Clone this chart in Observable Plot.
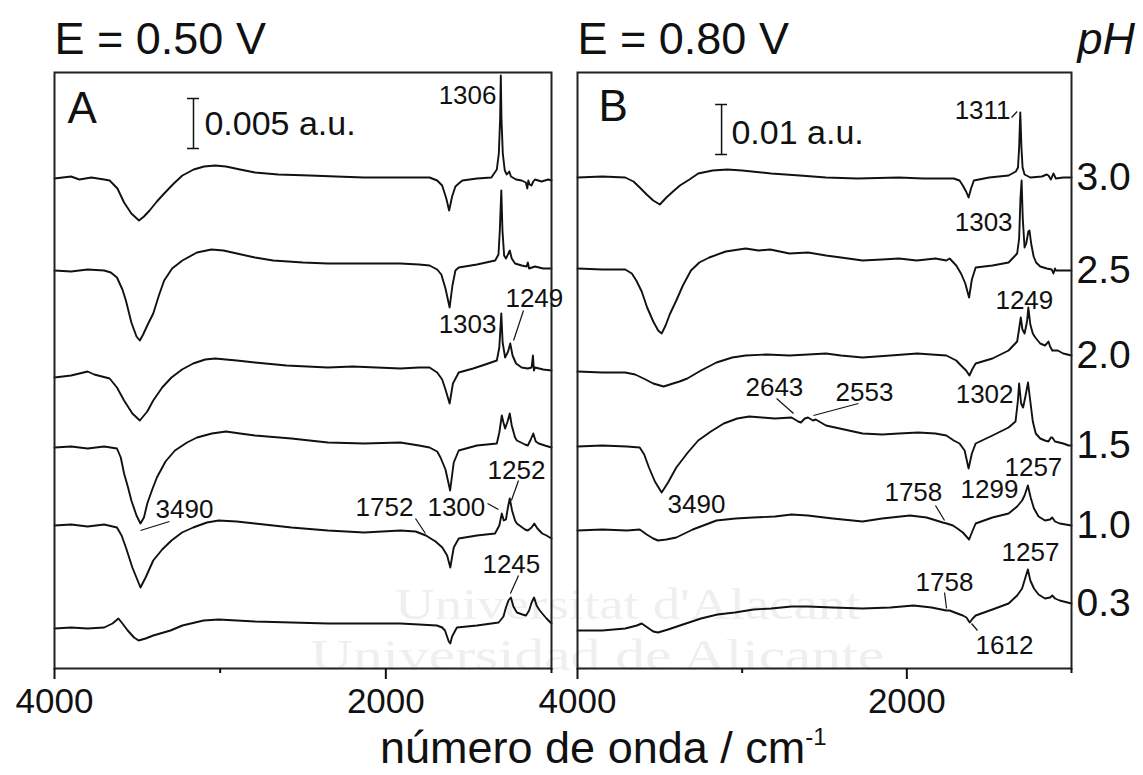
<!DOCTYPE html>
<html>
<head>
<meta charset="utf-8">
<script src="https://cdn.jsdelivr.net/npm/d3@7"></script>
<script src="https://cdn.jsdelivr.net/npm/@observablehq/plot@0.6"></script>
<style>
html, body { margin: 0; padding: 0; background: #fff; }
#wrap { position: relative; width: 1143px; height: 775px; overflow: hidden; font-family: "Liberation Sans", Arial, sans-serif; color: #111; }
#wrap svg { position: absolute; top: 0; overflow: visible; background: transparent; }
.wm { position: absolute; font-family: "Liberation Serif", "DejaVu Serif", serif; color: #efefef; white-space: nowrap; font-size: 45px; line-height: 50px; height: 50px; transform-origin: 0 50%; }
#xlabel { position: absolute; left: 380px; top: 725px; font-size: 45px; line-height: 45px; white-space: nowrap; color: #111; }
#xlabel span { font-size: 24px; position: relative; top: -18px; }
</style>
</head>
<body>
<div id="wrap">
  <div class="wm" style="left:395px; top:579px; transform: scaleX(1.22);">Universitat d'Alacant</div>
  <div class="wm" style="left:310px; top:630px; transform: scaleX(1.32);">Universidad de Alicante</div>
  <div id="xlabel">número de onda / cm<span>-1</span></div>
</div>
<script>
// ---------------- data ----------------
const wavenumberDomain = [4000, 1000];
const majorTicks = [4000, 2000];
const minorTicks = [3000, 1000];
const pHLabels = ["3.0", "2.5", "2.0", "1.5", "1.0", "0.3"];

// Panel A (E = 0.50 V): [wavenumber, ΔA in 10^-3 a.u. relative to the trace's baseline]
const A_pH30 = [[4000,0],[3900,0.2],[3850,-0.1],[3777,0.1],[3700,-0.1],[3667,-0.2],[3620,-1.0],[3580,-2.4],[3536,-3.5],[3490,-4.2],[3460,-3.8],[3426,-3.2],[3382,-2.3],[3338,-1.5],[3280,-0.5],[3228,0.3],[3160,0.9],[3097,1.2],[3030,1.3],[2965,1.2],[2880,0.9],[2790,0.6],[2650,0.4],[2460,0.3],[2300,0.2],[2131,0.1],[1950,0.1],[1800,0.1],[1736,0.1],[1690,-0.2],[1660,-0.7],[1635,-2.0],[1618,-3.2],[1600,-1.8],[1580,-0.8],[1560,-0.5],[1538,-0.2],[1450,0.0],[1363,0.1],[1330,0.9],[1318,2.5],[1310,6.0],[1306,10.3],[1302,6.0],[1294,2.5],[1282,0.8],[1270,0.4],[1255,0.7],[1245,0.2],[1214,-0.1],[1180,-0.2],[1155,-0.4],[1146,-1.0],[1140,-0.2],[1132,-0.6],[1121,-0.7],[1110,-0.3],[1100,-0.1],[1060,-0.3],[1020,-0.1],[1000,-0.2]];
const A_pH25 = [[4000,0],[3900,-0.1],[3800,0.1],[3700,0],[3660,-0.2],[3623,-0.7],[3590,-1.9],[3569,-3.0],[3536,-5.2],[3505,-6.6],[3485,-7.0],[3465,-6.4],[3440,-5.5],[3404,-4.3],[3370,-2.5],[3338,-1.0],[3290,0.2],[3228,1.0],[3140,1.8],[3053,2.1],[2980,2.0],[2899,1.7],[2790,1.3],[2680,1.0],[2500,0.8],[2350,0.7],[2100,0.7],[1912,0.7],[1800,0.6],[1736,0.5],[1690,0.1],[1665,-0.4],[1640,-1.8],[1615,-3.7],[1598,-1.5],[1580,0.0],[1560,0.3],[1450,0.6],[1340,1.0],[1320,1.6],[1312,4.0],[1303,8.0],[1296,4.0],[1286,1.5],[1275,1.2],[1260,1.7],[1252,2.0],[1240,1.2],[1220,0.7],[1180,0.5],[1150,0.4],[1143,0.8],[1135,0.2],[1100,0.4],[1050,0.2],[1000,0.2]];
const A_pH20 = [[4000,0],[3900,0.2],[3800,0.6],[3760,0.3],[3667,-0.1],[3623,-1.0],[3580,-2.3],[3530,-3.6],[3485,-4.3],[3440,-3.4],[3404,-2.3],[3350,-1.0],[3294,0.0],[3230,0.8],[3163,1.4],[3090,1.8],[3031,1.9],[2900,1.7],[2790,1.5],[2600,1.2],[2350,1.0],[2200,1.1],[1912,0.9],[1800,1.0],[1736,1.0],[1690,0.5],[1660,-0.2],[1640,-1.2],[1615,-2.6],[1595,-0.6],[1560,0.5],[1473,0.9],[1400,1.3],[1330,1.7],[1315,3.0],[1303,6.4],[1295,3.5],[1280,2.0],[1262,2.6],[1249,3.4],[1235,2.2],[1214,1.4],[1180,1.0],[1143,0.9],[1120,1.0],[1112,2.2],[1106,0.7],[1099,1.0],[1050,0.8],[1000,0.7]];
const A_pH15 = [[4000,0],[3900,0.1],[3800,-0.1],[3700,0.1],[3623,-0.1],[3600,-1.0],[3580,-2.6],[3556,-4.0],[3536,-5.3],[3505,-6.8],[3481,-7.6],[3460,-7.0],[3440,-5.6],[3410,-4.2],[3382,-3.0],[3330,-1.4],[3273,-0.3],[3200,0.5],[3140,1.0],[3050,1.4],[2965,1.6],[2880,1.4],[2790,1.2],[2570,0.9],[2350,0.5],[2131,0.4],[1912,0.5],[1800,0.2],[1736,0.0],[1690,-0.4],[1670,-1.0],[1640,-2.2],[1612,-4.3],[1590,-1.5],[1560,-0.3],[1450,0.2],[1330,0.4],[1315,1.5],[1300,3.2],[1290,2.5],[1280,1.9],[1265,2.6],[1252,3.4],[1240,2.2],[1220,1.0],[1209,0.7],[1160,0.3],[1143,0.2],[1125,0.8],[1110,1.4],[1095,0.6],[1077,0.4],[1040,0.2],[1000,0]];
const A_pH10 = [[4000,0],[3900,0.1],[3800,-0.1],[3700,0.1],[3623,-0.2],[3595,-1.0],[3569,-2.2],[3530,-4.2],[3481,-6.2],[3450,-5.2],[3404,-3.5],[3350,-2.4],[3294,-1.5],[3230,-0.7],[3163,-0.2],[3080,0.3],[3009,0.5],[2900,0.4],[2790,0.2],[2570,-0.2],[2350,-0.5],[2131,-0.7],[1912,-0.5],[1820,-0.6],[1758,-1.0],[1700,-1.6],[1659,-2.2],[1630,-3.0],[1611,-4.2],[1590,-2.2],[1560,-1.3],[1450,-1.0],[1341,-0.8],[1315,0.0],[1300,1.2],[1288,0.5],[1275,0.6],[1263,1.8],[1252,2.7],[1238,1.5],[1220,0.5],[1209,0.2],[1160,-0.4],[1143,-0.5],[1120,-0.2],[1104,0.2],[1085,-0.3],[1056,-0.8],[1030,-1.0],[1000,-1.3]];
const A_pH03 = [[4000,0],[3900,0.1],[3800,0.0],[3700,0.1],[3650,0.5],[3614,1.0],[3590,0.5],[3558,-0.2],[3520,-0.9],[3492,-1.2],[3450,-1.0],[3404,-0.7],[3300,-0.2],[3228,0.3],[3100,0.8],[3009,0.9],[2900,0.8],[2790,0.7],[2570,0.6],[2350,0.5],[2131,0.5],[1912,0.5],[1800,0.4],[1692,0.3],[1660,0.1],[1643,-0.2],[1620,-1.3],[1611,-1.5],[1600,-0.8],[1571,0.1],[1450,0.3],[1319,0.6],[1290,1.2],[1275,2.1],[1260,2.8],[1245,3.1],[1230,2.2],[1209,1.6],[1175,1.4],[1154,1.3],[1135,1.8],[1120,2.6],[1105,3.1],[1090,2.3],[1075,1.9],[1056,1.5],[1030,1.0],[1000,0.5]];
const tracesA = [A_pH30, A_pH25, A_pH20, A_pH15, A_pH10, A_pH03];
const offsetsA = [49.0, 39.8, 29.1, 22.1, 14.3, 4.0];          // stacking offsets, 10^-3 a.u.
const yDomainA = [0, 59.6];

// Panel B (E = 0.80 V)
const B_pH30 = [[4000,0],[3850,0.2],[3710,0],[3660,-0.8],[3622,-2.0],[3580,-3.4],[3540,-4.6],[3500,-5.4],[3460,-4.0],[3420,-2.8],[3378,-1.6],[3320,-0.4],[3267,0.8],[3180,1.4],[3090,1.6],[3000,1.4],[2824,0.8],[2650,0.4],[2491,0],[2300,-0.2],[2048,0],[1900,-0.2],[1715,-0.2],[1680,-0.6],[1660,-1.6],[1640,-2.8],[1625,-4.0],[1610,-2.2],[1593,-0.6],[1500,0.0],[1382,0.4],[1338,1.2],[1325,2.0],[1318,6.0],[1311,13.0],[1304,6.0],[1297,2.0],[1285,0.6],[1250,0],[1180,0.2],[1150,0.6],[1140,0.4],[1125,-0.4],[1110,0.8],[1095,-0.2],[1050,0],[1000,0]];
const B_pH25 = [[4000,0],[3850,-0.2],[3710,-0.2],[3670,-1.0],[3643,-2.4],[3610,-4.6],[3577,-7.8],[3540,-10.6],[3510,-12.4],[3489,-13.0],[3465,-11.4],[3440,-9.2],[3400,-6.4],[3360,-3.4],[3311,-0.4],[3260,1.2],[3200,2.2],[3100,3.4],[2979,4.0],[2900,3.6],[2830,3.8],[2713,3.0],[2600,3.2],[2491,2.6],[2400,2.2],[2269,1.6],[2150,1.8],[2048,2.0],[1940,1.6],[1826,2.0],[1760,1.6],[1740,2.0],[1700,0.6],[1671,-1.0],[1645,-3.0],[1622,-5.8],[1605,-2.2],[1582,0.2],[1480,0.6],[1382,1.2],[1330,3.0],[1318,6.0],[1310,14.0],[1303,17.6],[1296,10.0],[1285,4.2],[1275,5.0],[1262,7.4],[1255,7.6],[1245,5.0],[1230,2.4],[1215,1.2],[1190,0.4],[1150,0],[1120,-0.2],[1110,-1.0],[1100,0.0],[1095,-0.4],[1050,-0.4],[1000,-0.4]];
const B_pH20 = [[4000,0],[3850,-0.2],[3710,-0.2],[3650,-0.6],[3599,-1.4],[3540,-2.4],[3477,-3.0],[3420,-2.4],[3380,-2.0],[3333,-1.4],[3250,0.2],[3156,1.8],[3060,2.8],[2979,3.2],[2850,3.4],[2713,3.2],[2600,3.4],[2491,3.6],[2400,3.2],[2269,2.8],[2100,3.2],[1937,3.6],[1850,3.4],[1760,3.2],[1700,2.2],[1671,1.2],[1640,0.2],[1620,-0.8],[1600,0.6],[1582,1.6],[1480,2.6],[1382,4.2],[1330,6.0],[1316,9.0],[1308,10.8],[1298,8.4],[1285,7.6],[1270,10.0],[1262,12.8],[1250,9.4],[1235,7.6],[1220,6.8],[1190,5.6],[1161,5.2],[1150,5.6],[1140,6.0],[1130,5.0],[1117,4.2],[1084,4.2],[1050,3.6],[1000,3.2]];
const B_pH15 = [[4000,0],[3850,0.2],[3700,0],[3622,-0.2],[3595,-1.6],[3566,-4.2],[3530,-7.0],[3489,-9.2],[3450,-7.2],[3400,-4.2],[3330,-1.2],[3267,1.2],[3190,3.0],[3112,4.6],[3030,5.6],[2957,6.0],[2880,5.8],[2801,5.6],[2700,5.8],[2660,5.0],[2643,4.8],[2620,5.6],[2600,5.8],[2570,5.2],[2553,5.4],[2491,4.2],[2380,3.4],[2269,2.6],[2150,2.4],[2048,2.6],[1930,2.8],[1826,2.6],[1760,2.2],[1715,1.2],[1680,0.6],[1649,-0.8],[1625,-4.4],[1605,-1.4],[1582,0.6],[1480,2.2],[1382,3.8],[1340,5.0],[1326,9.0],[1318,12.6],[1306,8.6],[1294,7.8],[1280,10.0],[1264,12.8],[1250,9.0],[1235,5.0],[1217,2.6],[1190,1.6],[1161,1.2],[1140,1.0],[1125,1.8],[1117,1.8],[1100,1.0],[1050,0.6],[1017,0.2],[1000,0.2]];
const B_pH10 = [[4000,0],[3850,0.2],[3700,0],[3622,0.2],[3580,-0.8],[3540,-1.6],[3511,-2.0],[3460,-1.8],[3400,-1.4],[3300,0.2],[3156,2.0],[3040,2.4],[2934,2.6],[2800,2.8],[2700,3.2],[2602,3.0],[2450,2.4],[2269,1.8],[2150,2.4],[1981,3.0],[1880,2.6],[1782,1.6],[1758,1.4],[1720,1.0],[1693,0.4],[1660,-0.4],[1622,-1.8],[1600,0.0],[1582,1.4],[1480,2.6],[1382,3.4],[1330,4.8],[1300,6.0],[1285,7.0],[1265,9.0],[1248,6.6],[1228,4.4],[1200,2.8],[1161,2.0],[1130,2.2],[1117,2.6],[1100,1.8],[1072,1.4],[1000,1.0]];
const B_pH03 = [[4000,0],[3850,0],[3710,0.4],[3640,1.0],[3610,1.4],[3575,0.6],[3540,-0.2],[3511,-0.4],[3450,0.2],[3378,1.0],[3250,2.4],[3150,3.2],[3045,3.6],[2930,4.2],[2824,4.4],[2700,4.8],[2602,4.8],[2450,4.6],[2269,4.4],[2100,4.6],[1959,5.0],[1850,4.6],[1760,4.0],[1740,4.0],[1693,3.4],[1660,3.0],[1638,2.6],[1618,1.6],[1600,2.4],[1582,3.0],[1480,4.2],[1382,5.4],[1330,7.0],[1300,8.4],[1280,10.6],[1265,12.2],[1250,10.0],[1228,8.4],[1200,7.2],[1161,6.4],[1130,6.6],[1117,7.0],[1100,6.4],[1072,6.0],[1000,5.4]];
const tracesB = [B_pH30, B_pH25, B_pH20, B_pH15, B_pH10, B_pH03];
const offsetsB = [98.2, 80.0, 59.4, 44.4, 27.6, 7.6];
const yDomainB = [0, 119.2];

// Scale bars (10^-3 a.u.)
const scaleBarA = {wn: 3161, from: 52.0, length: 5, label: "0.005 a.u.", labelWn: 3095, labelY: 53.4, cap: 36};
const scaleBarB = {wn: 3125, from: 102.8, length: 10, label: "0.01 a.u.", labelWn: 3065, labelY: 105.0, cap: 36};

// Peak annotations
const peakLabelsA = [
  {text: "1306", wn: 1332, y: 56.5, anchor: "end"},
  {text: "1303", wn: 1332, y: 33.6, anchor: "end"},
  {text: "1249", wn: 1278, y: 36.2, anchor: "start"},
  {text: "3490", wn: 3390, y: 15.1, anchor: "start"},
  {text: "1752", wn: 2183, y: 15.3, anchor: "start"},
  {text: "1300", wn: 1749, y: 15.3, anchor: "start"},
  {text: "1252", wn: 1386, y: 19.0, anchor: "start"},
  {text: "1245", wn: 1417, y: 9.6, anchor: "start"}
];
const leadersA = [
  {x1: 1169, y1: 35.8, x2: 1229, y2: 32.8},
  {x1: 3481, y1: 13.8, x2: 3306, y2: 14.7},
  {x1: 1821, y1: 15.0, x2: 1761, y2: 13.5},
  {x1: 1386, y1: 16.5, x2: 1320, y2: 15.9},
  {x1: 1199, y1: 18.8, x2: 1242, y2: 16.8},
  {x1: 1199, y1: 9.3, x2: 1248, y2: 7.5}
];
const peakLabelsB = [
  {text: "1311", wn: 1370, y: 110.0, anchor: "end"},
  {text: "1303", wn: 1358, y: 87.6, anchor: "end"},
  {text: "1249", wn: 1462, y: 72.0, anchor: "start"},
  {text: "2643", wn: 2980, y: 54.6, anchor: "start"},
  {text: "2553", wn: 2433, y: 53.6, anchor: "start"},
  {text: "1302", wn: 1352, y: 53.2, anchor: "end"},
  {text: "3490", wn: 3453, y: 31.2, anchor: "start"},
  {text: "1758", wn: 2136, y: 33.6, anchor: "start"},
  {text: "1299", wn: 1674, y: 34.2, anchor: "start"},
  {text: "1257", wn: 1407, y: 38.6, anchor: "start"},
  {text: "1257", wn: 1425, y: 21.6, anchor: "start"},
  {text: "1758", wn: 1947, y: 15.6, anchor: "start"},
  {text: "1612", wn: 1583, y: 3.0, anchor: "start"}
];
const leadersB = [
  {x1: 1364, y1: 110.2, x2: 1330, y2: 111.4},
  {x1: 1261, y1: 71.6, x2: 1261, y2: 70.0},
  {x1: 2791, y1: 54.0, x2: 2688, y2: 51.0},
  {x1: 2294, y1: 53.0, x2: 2567, y2: 50.6},
  {x1: 1826, y1: 32.6, x2: 1771, y2: 29.6},
  {x1: 1771, y1: 15.2, x2: 1759, y2: 12.0},
  {x1: 1607, y1: 9.0, x2: 1571, y2: 7.6}
];

// ---------------- drawing ----------------
const INK = "#111";
const FONT = "Liberation Sans, Arial, sans-serif";

function rows(traces, offsets) {
  return traces.flatMap((t, i) => t.map(([wn, v]) => ({wn, y: v + offsets[i], pH: pHLabels[i]})));
}

function panel({traces, offsets, yDomain, width, marginLeft, marginRight, title, letter, letterPos, scaleBar, labels, leaders, extra}) {
  const sbRows = [{wn: scaleBar.wn, y1: scaleBar.from, y2: scaleBar.from + scaleBar.length}];
  const startLabels = labels.filter(d => d.anchor === "start");
  const endLabels = labels.filter(d => d.anchor === "end");
  return Plot.plot({
    width, height: 720, marginLeft, marginRight, marginTop: 72, marginBottom: 52,
    x: {domain: wavenumberDomain},
    y: {domain: yDomain, axis: null},
    style: {fontFamily: FONT, overflow: "visible", background: "transparent", color: INK},
    marks: [
      Plot.line(rows(traces, offsets), {x: "wn", y: "y", z: "pH", stroke: INK, strokeWidth: 1.9, strokeLinejoin: "round"}),
      Plot.frame({stroke: "#222", strokeWidth: 2}),
      Plot.axisX({ticks: majorTicks, tickSize: 11, tickPadding: 9, tickFormat: "d", fontSize: 35, label: null, strokeWidth: 2}),
      Plot.axisX({ticks: minorTicks, tickSize: 5, tickFormat: () => "", label: null, strokeWidth: 2}),
      Plot.text([title], {frameAnchor: "top-left", text: d => d, textAnchor: "start", lineAnchor: "bottom", dy: -19, fontSize: 45, fill: INK}),
      Plot.text([letterPos], {x: "wn", y: "y", text: () => letter, textAnchor: "start", lineAnchor: "bottom", fontSize: 44, fill: INK}),
      Plot.ruleX(sbRows, {x: "wn", y1: "y1", y2: "y2", stroke: INK, strokeWidth: 1.5}),
      Plot.ruleY([scaleBar.from, scaleBar.from + scaleBar.length], {y: d => d, x1: scaleBar.wn + scaleBar.cap, x2: scaleBar.wn - scaleBar.cap, stroke: INK, strokeWidth: 1.5}),
      Plot.text([scaleBar], {x: "labelWn", y: "labelY", text: "label", textAnchor: "start", lineAnchor: "bottom", fontSize: 34, fill: INK}),
      Plot.text(startLabels, {x: "wn", y: "y", text: "text", textAnchor: "start", lineAnchor: "bottom", fontSize: 26, fill: INK}),
      Plot.text(endLabels, {x: "wn", y: "y", text: "text", textAnchor: "end", lineAnchor: "bottom", fontSize: 26, fill: INK}),
      Plot.link(leaders, {x1: "x1", y1: "y1", x2: "x2", y2: "y2", stroke: INK, strokeWidth: 1.2}),
      ...(extra || [])
    ]
  });
}

const wrap = document.getElementById("wrap");

const svgA = panel({
  traces: tracesA, offsets: offsetsA, yDomain: yDomainA,
  width: 560, marginLeft: 54, marginRight: 9,
  title: "E = 0.50 V", letter: "A", letterPos: {wn: 3922, y: 54.6},
  scaleBar: scaleBarA, labels: peakLabelsA, leaders: leadersA
});
svgA.style.left = "0px";

const lastB = tracesB.map((t, i) => ({wn: t[t.length - 1][0], y: t[t.length - 1][1] + offsetsB[i], pH: pHLabels[i]}));
const svgB = panel({
  traces: tracesB, offsets: offsetsB, yDomain: yDomainB,
  width: 613, marginLeft: 47, marginRight: 72,
  title: "E = 0.80 V", letter: "B", letterPos: {wn: 3872, y: 109.6},
  scaleBar: scaleBarB, labels: peakLabelsB, leaders: leadersB,
  extra: [
    Plot.text(lastB, {x: "wn", y: "y", text: "pH", textAnchor: "start", lineAnchor: "middle", dx: 5, fontSize: 39, fill: INK}),
    Plot.text(["pH"], {frameAnchor: "top-right", text: d => d, textAnchor: "start", lineAnchor: "bottom", dx: 6, dy: -19, fontSize: 45, fontStyle: "italic", fill: INK})
  ]
});
svgB.style.left = "530px";

wrap.appendChild(svgA);
wrap.appendChild(svgB);
</script>
</body>
</html>
